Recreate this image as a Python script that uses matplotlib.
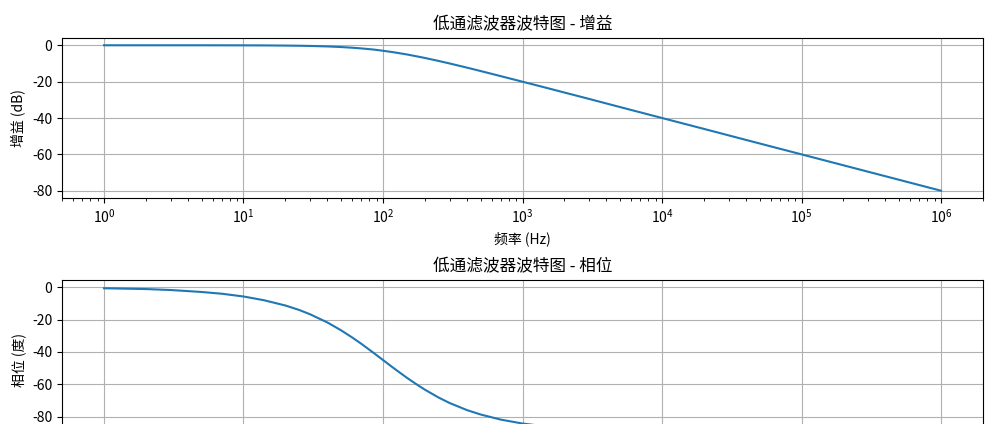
import matplotlib
matplotlib.use("Agg")
import matplotlib.pyplot as plt

plt.rcParams['font.family'] = ['Noto Sans CJK SC', 'DejaVu Sans']
plt.rcParams['axes.unicode_minus'] = False

freq = [1, 2, 3, 5, 7, 10, 14, 20, 25, 30, 40, 50, 60, 70, 85, 100, 120, 150, 180,
        200, 250, 300, 400, 500, 700, 1000, 1500, 2000, 3000, 5000, 1e4, 2e4, 5e4,
        1e5, 1e6]
gain_db = [0, -0.002, -0.004, -0.01, -0.02, -0.04, -0.08, -0.17, -0.26, -0.37, -0.64,
           -0.97, -1.34, -1.73, -2.33, -3.01, -3.87, -5.12, -6.29, -6.99, -8.60, -10.0,
           -12.3, -14.15, -17.0, -20.04, -23.5, -26.0, -29.5, -33.98, -40.0, -46.0,
           -54.0, -60.0, -80.0]
phase_deg = [-0.6, -1.1, -1.7, -2.9, -4.0, -5.7, -8.0, -11.3, -14.0, -16.7, -21.8,
             -26.6, -31.0, -35.0, -40.4, -45.0, -50.2, -56.3, -60.9, -63.4, -68.2,
             -71.6, -76.0, -78.7, -81.9, -84.3, -86.2, -87.1, -88.1, -88.9, -89.4,
             -89.7, -89.9, -89.9, -90.0]

fig = plt.figure(figsize=(9.94, 4.24), dpi=100)
W, H = 994, 424
ax1 = fig.add_axes([62/W, 1-198/H, 921/W, 160/H])
ax2 = fig.add_axes([62/W, 1-440/H, 921/W, 160/H])

ax1.semilogx(freq, gain_db, color='#1f77b4', lw=1.5)
ax1.set_title('低通滤波器波特图 - 增益')
ax1.set_xlabel('频率 (Hz)')
ax1.set_ylabel('增益 (dB)')
ax1.grid(True, which='major')
ax1.set_xlim(0.5, 2e6)
ax1.set_ylim(-84, 4)

ax2.semilogx(freq, phase_deg, color='#1f77b4', lw=1.5)
ax2.set_title('低通滤波器波特图 - 相位')
ax2.set_ylabel('相位 (度)')
ax2.grid(True, which='major')
ax2.set_xlim(0.5, 2e6)
ax2.set_ylim(-94.5, 4.5)
ax2.set_yticks([0, -20, -40, -60, -80])

fig.savefig('out.png', dpi=100)
